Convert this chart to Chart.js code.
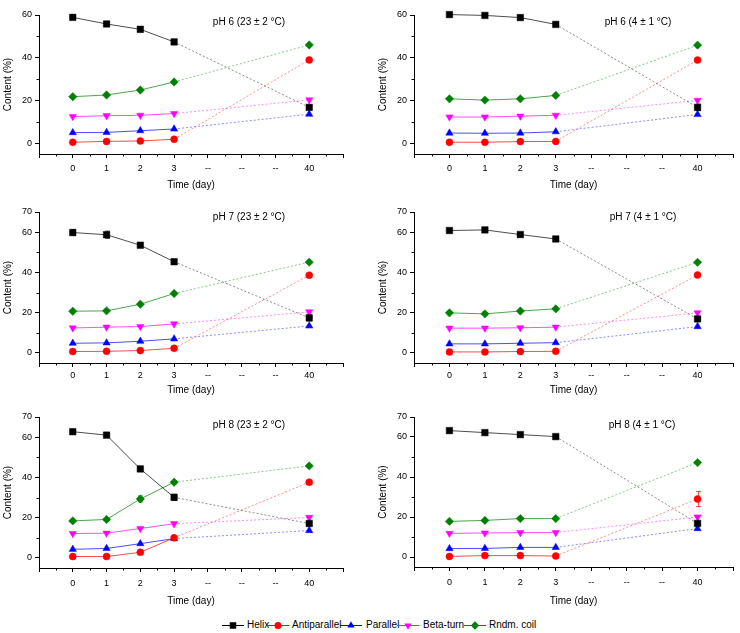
<!DOCTYPE html>
<html><head><meta charset="utf-8">
<script src="https://cdn.jsdelivr.net/npm/chart.js@4/dist/chart.umd.min.js"></script>
<style>
html,body{margin:0;padding:0;background:#fff;}
body{width:740px;height:633px;position:relative;overflow:hidden;font-family:"Liberation Sans",Arial,sans-serif;}
canvas.panel{position:absolute;}
.lg-icon{position:absolute;}
.lg-text{position:absolute;font-size:10px;line-height:12px;color:#000;white-space:nowrap;}
</style></head><body>
<script>
// ---------- DATA ----------
const timeLabels = ['0', '1', '2', '3', '--', '--', '--', '40'];
const seriesNames = ['Helix', 'Antiparallel', 'Parallel', 'Beta-turn', 'Rndm. coil'];
const panelTitles = ['pH 6 (23 ± 2 °C)', 'pH 6 (4 ± 1 °C)', 'pH 7 (23 ± 2 °C)', 'pH 7 (4 ± 1 °C)', 'pH 8 (23 ± 2 °C)', 'pH 8 (4 ± 1 °C)'];
const yMaxes = [60, 60, 70, 70, 70, 70];
const yLabelsTop = [0, 20, 40, 60];
const yLabelsLower = [0, 20, 40, 60, 70];

// pH 6, 23 °C
const helix_pH6_23 = [58.9, 55.8, 53.3, 47.4, null, null, null, 16.8];
const helixErr_pH6_23 = [0.5, 0.8, 1.2, 1.2, null, null, null, 0.8];
const anti_pH6_23 = [0.5, 0.9, 1.1, 1.9, null, null, null, 39.0];
const para_pH6_23 = [5.0, 5.1, 5.9, 6.7, null, null, null, 13.6];
const beta_pH6_23 = [12.5, 12.9, 13.1, 13.9, null, null, null, 20.3];
const coil_pH6_23 = [21.8, 22.6, 24.9, 28.7, null, null, null, 46.0];
// pH 6, 4 °C
const helix_pH6_4 = [60.2, 59.8, 58.8, 55.6, null, null, null, 16.8];
const helixErr_pH6_4 = [0.3, 0.3, 0.5, 0.5, null, null, null, 1.5];
const anti_pH6_4 = [0.5, 0.5, 0.8, 0.9, null, null, null, 38.9];
const para_pH6_4 = [4.8, 4.7, 4.8, 5.4, null, null, null, 13.5];
const beta_pH6_4 = [12.3, 12.3, 12.7, 13.1, null, null, null, 20.1];
const coil_pH6_4 = [20.8, 20.2, 20.8, 22.4, null, null, null, 45.9];
// pH 7, 23 °C
const helix_pH7_23 = [59.8, 58.7, 53.5, 45.3, null, null, null, 17.4];
const helixErr_pH7_23 = [1.5, 1.8, 0.8, 1.0, null, null, null, 1.5];
const anti_pH7_23 = [0.7, 0.8, 1.2, 2.3, null, null, null, 38.6];
const para_pH7_23 = [4.8, 5.0, 5.8, 7.0, null, null, null, 13.4];
const beta_pH7_23 = [12.4, 12.8, 13.1, 14.4, null, null, null, 20.4];
const coil_pH7_23 = [20.7, 20.9, 24.2, 29.5, null, null, null, 45.1];
// pH 7, 4 °C
const helix_pH7_4 = [60.8, 61.1, 58.8, 56.6, null, null, null, 16.9];
const helixErr_pH7_4 = [0.5, 0.5, 0.7, 1.2, null, null, null, 0.5];
const anti_pH7_4 = [0.5, 0.5, 0.7, 0.8, null, null, null, 38.7];
const para_pH7_4 = [4.5, 4.5, 4.8, 5.1, null, null, null, 13.1];
const beta_pH7_4 = [12.3, 12.3, 12.5, 12.8, null, null, null, 19.9];
const coil_pH7_4 = [19.9, 19.4, 20.8, 21.9, null, null, null, 45.0];
// pH 8, 23 °C
const helix_pH8_23 = [62.7, 61.0, 44.2, 30.1, null, null, null, 17.1];
const helixErr_pH8_23 = [0.3, 0.8, 1.3, 1.5, null, null, null, 0.5];
const anti_pH8_23 = [0.7, 0.7, 2.8, 10.0, null, null, null, 37.6];
const para_pH8_23 = [4.3, 4.7, 7.1, 9.6, null, null, null, 13.6];
const beta_pH8_23 = [12.1, 12.3, 14.6, 17.0, null, null, null, 20.1];
const coil_pH8_23 = [18.4, 19.1, 29.3, 37.6, null, null, null, 45.7];
const coilErr_pH8_23 = [0.3, 0.5, 1.5, 0.8, null, null, null, 0.5];
// pH 8, 4 °C
const helix_pH8_4 = [63.2, 62.2, 61.2, 60.2, null, null, null, 16.8];
const helixErr_pH8_4 = [0.3, 0.3, 1.0, 1.0, null, null, null, 0.5];
const anti_pH8_4 = [0.3, 0.7, 0.7, 0.5, null, null, null, 29.0];
const antiErr_pH8_4 = [null, null, null, null, null, null, null, 3.8];
const para_pH8_4 = [4.2, 4.3, 4.8, 4.8, null, null, null, 14.2];
const beta_pH8_4 = [11.8, 12.0, 12.2, 12.2, null, null, null, 20.0];
const coil_pH8_4 = [17.8, 18.3, 19.2, 19.2, null, null, null, 47.2];

// ---------- STYLE / LAYOUT ----------
const FONT = '"Liberation Sans", Arial, sans-serif';
Chart.defaults.font.family = FONT;
Chart.defaults.color = '#000';

const seriesStyle = [
  {color: '#000000', solid: 'rgba(0,0,0,0.7)', light: 'rgba(0,0,0,0.45)', pointStyle: 'rect', radius: 4.6, rotation: 0},
  {color: '#ff0000', solid: 'rgba(255,0,0,0.7)', light: 'rgba(255,0,0,0.45)', pointStyle: 'circle', radius: 3.5, rotation: 0},
  {color: '#0000ff', solid: 'rgba(0,0,255,0.7)', light: 'rgba(0,0,255,0.45)', pointStyle: 'triangle', radius: 4.2, rotation: 0},
  {color: '#ff00ff', solid: 'rgba(255,0,255,0.7)', light: 'rgba(255,0,255,0.45)', pointStyle: 'triangle', radius: 4.2, rotation: 180},
  {color: '#008000', solid: 'rgba(0,128,0,0.7)', light: 'rgba(0,128,0,0.45)', pointStyle: 'rectRot', radius: 4.2, rotation: 0}
];

const panelSeries = [
  [helix_pH6_23, anti_pH6_23, para_pH6_23, beta_pH6_23, coil_pH6_23],
  [helix_pH6_4, anti_pH6_4, para_pH6_4, beta_pH6_4, coil_pH6_4],
  [helix_pH7_23, anti_pH7_23, para_pH7_23, beta_pH7_23, coil_pH7_23],
  [helix_pH7_4, anti_pH7_4, para_pH7_4, beta_pH7_4, coil_pH7_4],
  [helix_pH8_23, anti_pH8_23, para_pH8_23, beta_pH8_23, coil_pH8_23],
  [helix_pH8_4, anti_pH8_4, para_pH8_4, beta_pH8_4, coil_pH8_4]
];
const panelErrors = [
  [helixErr_pH6_23, null, null, null, null],
  [helixErr_pH6_4, null, null, null, null],
  [helixErr_pH7_23, null, null, null, null],
  [helixErr_pH7_4, null, null, null, null],
  [helixErr_pH8_23, null, null, null, coilErr_pH8_23],
  [helixErr_pH8_4, antiErr_pH8_4, null, null, null]
];

// page geometry: canvas box + plot area (absolute page px)
const geom = [
  {x: 0,   y: 0,   w: 360, h: 200, L: 39,  R: 343, T: 15,  B: 154, tx: 249, ty: 22,  tickPad: 5, xt: 185, ytx: 8},
  {x: 370, y: 0,   w: 370, h: 200, L: 414, R: 733, T: 15,  B: 154, tx: 638, ty: 22,  tickPad: 5, xt: 185, ytx: 383},
  {x: 0,   y: 200, w: 360, h: 205, L: 39,  R: 343, T: 212, B: 363, tx: 249, ty: 217, tickPad: 3, xt: 390, ytx: 8},
  {x: 370, y: 200, w: 370, h: 205, L: 414, R: 733, T: 212, B: 363, tx: 643, ty: 217, tickPad: 3, xt: 390, ytx: 383},
  {x: 0,   y: 405, w: 360, h: 205, L: 39,  R: 343, T: 417, B: 568, tx: 249, ty: 425, tickPad: 6, xt: 601, ytx: 8},
  {x: 370, y: 405, w: 370, h: 205, L: 414, R: 733, T: 417, B: 567, tx: 642, ty: 425, tickPad: 6, xt: 601, ytx: 383}
];

const decor = {
  id: 'decor',
  beforeDatasetsDraw(chart) {
    const ctx = chart.ctx, xs = chart.scales.x, ys = chart.scales.y;
    chart.data.datasets.forEach((ds) => {
      if (!ds.errorBars) return;
      ds.data.forEach((pt) => {
        const e = ds.errorBars[pt.x];
        if (!e) return;
        const px = Math.round(xs.getPixelForValue(pt.x)) + 0.5;
        const y1 = ys.getPixelForValue(pt.y + e), y2 = ys.getPixelForValue(pt.y - e);
        ctx.save();
        ctx.strokeStyle = ds.errColor; ctx.lineWidth = 1;
        ctx.beginPath();
        ctx.moveTo(px, y1); ctx.lineTo(px, y2);
        ctx.moveTo(px - 2.5, y1); ctx.lineTo(px + 2.5, y1);
        ctx.moveTo(px - 2.5, y2); ctx.lineTo(px + 2.5, y2);
        ctx.stroke();
        ctx.restore();
      });
    });
  },
  afterDraw(chart, args, opts) {
    const ctx = chart.ctx, xs = chart.scales.x, ys = chart.scales.y, ca = chart.chartArea;
    ctx.save();
    ctx.strokeStyle = '#000'; ctx.lineWidth = 1;
    ctx.beginPath();
    for (let v = -0.5; v < 8; v += 1) {
      const px = Math.round(xs.getPixelForValue(v)) + 0.5;
      ctx.moveTo(px, ca.bottom); ctx.lineTo(px, ca.bottom + 2.5);
    }
    for (let v = 10; v < opts.ymax; v += 20) {
      const py = Math.round(ys.getPixelForValue(v)) + 0.5;
      ctx.moveTo(ca.left - 2.5, py); ctx.lineTo(ca.left, py);
    }
    ctx.stroke();
    ctx.fillStyle = '#000';
    ctx.font = '10px ' + FONT;
    ctx.textAlign = 'center'; ctx.textBaseline = 'middle';
    ctx.fillText(opts.title, opts.tx, opts.ty);
    ctx.restore();
  }
};

geom.forEach((g, p) => {
  const cv = document.createElement('canvas');
  cv.className = 'panel';
  cv.width = g.w; cv.height = g.h;
  cv.style.left = g.x + 'px'; cv.style.top = g.y + 'px';
  cv.style.width = g.w + 'px'; cv.style.height = g.h + 'px';
  document.body.appendChild(cv);

  const ymax = yMaxes[p];
  const yLab = ymax === 60 ? yLabelsTop : yLabelsLower;

  const datasets = panelSeries[p].map((vals, s) => {
    const st = seriesStyle[s];
    const pts = [];
    vals.forEach((v, i) => { if (v !== null) pts.push({x: i, y: v}); });
    return {
      label: seriesNames[s],
      data: pts,
      clip: false,
      errorBars: panelErrors[p][s],
      errColor: st.solid,
      borderColor: st.solid,
      borderWidth: 1,
      backgroundColor: st.color,
      pointBackgroundColor: st.color,
      pointBorderColor: st.color,
      pointBorderWidth: 0.5,
      pointStyle: st.pointStyle,
      pointRotation: st.rotation,
      pointRadius: st.radius,
      tension: 0,
      segment: {
        borderDash: c => (c.p0DataIndex === 3 ? [2, 2] : undefined),
        borderColor: c => (c.p0DataIndex === 3 ? st.light : undefined)
      }
    };
  });

  const yTickVals = [];
  for (let v = 0; v <= ymax; v += 10) yTickVals.push(v);
  const xTickVals = [];
  for (let v = -1; v <= 8; v += 0.5) xTickVals.push(v);

  new Chart(cv, {
    type: 'line',
    data: {datasets},
    options: {
      responsive: false,
      animation: false,
      devicePixelRatio: 1,
      layout: {padding: {top: g.T - g.y, right: (g.x + g.w) - g.R, left: 0, bottom: 0}},
      plugins: {
        legend: {display: false},
        tooltip: {enabled: false},
        decor: {title: panelTitles[p], tx: g.tx - g.x, ty: g.ty - g.y, ymax: ymax}
      },
      scales: {
        x: {
          type: 'linear', min: -1, max: 8,
          afterBuildTicks: s => { s.ticks = xTickVals.map(v => ({value: v})); },
          afterFit: s => { s.height = (g.y + g.h) - g.B; },
          grid: {drawOnChartArea: false, drawTicks: true, tickLength: 4,
                 tickColor: c => (Number.isInteger(c.tick.value) ? '#000' : 'rgba(0,0,0,0)')},
          border: {display: true, color: '#000', width: 1},
          ticks: {autoSkip: false, maxRotation: 0, padding: g.tickPad,
                  font: {size: 9}, color: '#000',
                  callback: v => (Number.isInteger(v) && v >= 0 && v < timeLabels.length ? timeLabels[v] : '')},
          title: {display: true, text: 'Time (day)', font: {size: 10}, color: '#000',
                  padding: {top: 0, bottom: (g.y + g.h) - g.xt - 6}}
        },
        y: {
          type: 'linear', min: -5, max: ymax,
          afterBuildTicks: s => { s.ticks = yTickVals.map(v => ({value: v})); },
          afterFit: s => { s.width = g.L - g.x; },
          grid: {drawOnChartArea: false, drawTicks: true, tickLength: 4,
                 tickColor: c => (yLab.includes(c.tick.value) ? '#000' : 'rgba(0,0,0,0)')},
          border: {display: true, color: '#000', width: 1},
          ticks: {autoSkip: false, padding: 3, font: {size: 9}, color: '#000',
                  callback: v => (yLab.includes(v) ? String(v) : '')},
          title: {display: true, text: 'Content (%)', font: {size: 10}, color: '#000',
                  padding: {top: (g.ytx - g.x) - 6, bottom: 0}}
        }
      }
    },
    plugins: [decor]
  });
});

// ---------- LEGEND ----------
const legendIconX = [222, 267, 340, 397, 464];
const legendTextX = [247, 292, 366, 423, 489];
const legendY = 625;
function drawMarker(ctx, st, x, y) {
  const r = st.radius;
  ctx.fillStyle = st.color;
  ctx.beginPath();
  if (st.pointStyle === 'rect') {
    const s = r * Math.SQRT1_2;
    ctx.rect(x - s, y - s, 2 * s, 2 * s);
  } else if (st.pointStyle === 'circle') {
    ctx.arc(x, y, r, 0, Math.PI * 2);
  } else if (st.pointStyle === 'triangle') {
    const d = st.rotation === 180 ? -1 : 1;
    ctx.moveTo(x, y - d * r);
    ctx.lineTo(x + r * 0.866, y + d * r * 0.5);
    ctx.lineTo(x - r * 0.866, y + d * r * 0.5);
    ctx.closePath();
  } else {
    ctx.moveTo(x, y - r); ctx.lineTo(x + r, y); ctx.lineTo(x, y + r); ctx.lineTo(x - r, y); ctx.closePath();
  }
  ctx.fill();
}
seriesNames.forEach((name, s) => {
  const st = seriesStyle[s];
  const ic = document.createElement('canvas');
  ic.className = 'lg-icon';
  ic.width = 22; ic.height = 12;
  ic.style.left = legendIconX[s] + 'px'; ic.style.top = (legendY - 6) + 'px';
  document.body.appendChild(ic);
  const c = ic.getContext('2d');
  c.strokeStyle = st.color; c.lineWidth = 1;
  c.beginPath(); c.moveTo(0, 6.5); c.lineTo(22, 6.5); c.stroke();
  drawMarker(c, st, 11, 6.5);
  const t = document.createElement('div');
  t.className = 'lg-text';
  t.textContent = name;
  t.style.left = legendTextX[s] + 'px'; t.style.top = (legendY - 6) + 'px';
  document.body.appendChild(t);
});
</script>
</body></html>
